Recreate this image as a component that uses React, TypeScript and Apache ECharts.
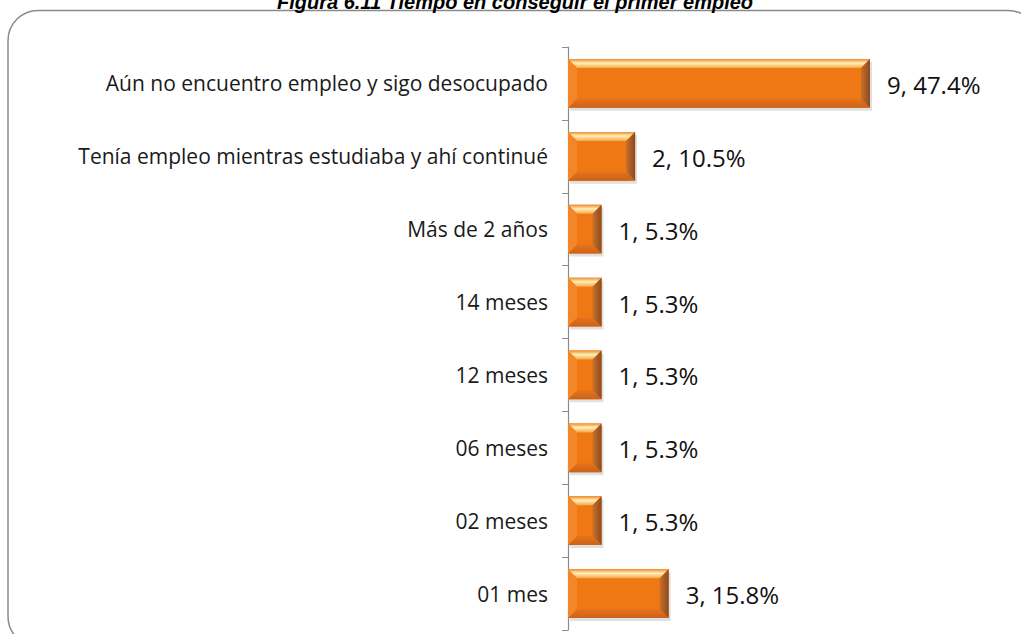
import React, { useEffect, useRef } from "react";
import * as echarts from "echarts";

const categories = [
  "Aún no encuentro empleo y sigo desocupado",
  "Tenía empleo mientras estudiaba y ahí continué",
  "Más de 2 años",
  "14 meses",
  "12 meses",
  "06 meses",
  "02 meses",
  "01 mes",
];
const counts = [9, 2, 1, 1, 1, 1, 1, 3];
const percents = ["47.4", "10.5", "5.3", "5.3", "5.3", "5.3", "5.3", "15.8"];
const titleText = "Figura 6.11 Tiempo en conseguir el primer empleo";

const LABEL_FONT = "Open Sans, Liberation Sans, sans-serif";

export default function App() {
  const ref = useRef<HTMLDivElement>(null);
  useEffect(() => {
    if (!ref.current) return;
    const chart = echarts.init(ref.current, null, { renderer: "svg" });
    const option: any = {
      animation: false,
      backgroundColor: "#ffffff",
      grid: { left: 568, top: 47, width: 302, height: 583 },
      xAxis: { type: "value", min: 0, max: 9, show: false },
      yAxis: {
        type: "category",
        inverse: true,
        data: categories,
        axisLine: { show: true, lineStyle: { color: "#8c8c8c", width: 1.2 } },
        axisTick: { show: true, length: 6, lineStyle: { color: "#8c8c8c" } },
        axisLabel: { margin: 20, fontSize: 21, color: "#1a1a1a", fontFamily: LABEL_FONT },
      },
      graphic: [
        {
          type: "rect",
          z: -10,
          shape: { x: 8, y: 10.5, width: 1030, height: 636, r: 30 },
          style: { fill: "none", stroke: "#8a8a8a", lineWidth: 1.5 },
        },
        {
          type: "text",
          x: 515,
          y: 12,
          style: {
            text: titleText,
            font: "italic bold 20px Liberation Sans, Arial, sans-serif",
            fill: "#000",
            align: "center",
            verticalAlign: "bottom",
          },
        },
      ],
      series: [
        {
          type: "custom",
          encode: { x: 0, y: 1 },
          data: counts.map((v, i) => [v, i]),
          renderItem: (params: any, api: any) => {
            const v = api.value(0);
            const idx = api.value(1);
            const s = api.coord([0, idx]);
            const e = api.coord([v, idx]);
            const band = api.size([0, 1])[1];
            const h = band * 0.67;
            const x0 = s[0];
            const x1 = e[0];
            const y0 = s[1] - h / 2;
            const y1 = y0 + h;
            const b = Math.min(9, (x1 - x0) / 3, h / 4);
            const label = counts[idx] + ", " + percents[idx] + "%";
            return {
              type: "group",
              children: [
                {
                  type: "rect",
                  shape: { x: x0 + 2, y: y0 + 3, width: x1 - x0, height: h },
                  style: { fill: "rgba(0,0,0,0.12)" },
                },
                {
                  type: "rect",
                  shape: { x: x0, y: y0, width: x1 - x0, height: h },
                  style: { fill: "#F07814" },
                },
                {
                  type: "polygon",
                  shape: { points: [[x0, y0], [x1, y0], [x1 - b, y0 + b], [x0 + b, y0 + b]] },
                  style: {
                    fill: new echarts.graphic.LinearGradient(0, 0, 0, 1, [
                      { offset: 0, color: "#F08A2A" },
                      { offset: 0.45, color: "#FFF0B8" },
                      { offset: 1, color: "#F6A848" },
                    ]),
                  },
                },
                {
                  type: "polygon",
                  shape: { points: [[x0, y1], [x1, y1], [x1 - b, y1 - b], [x0 + b, y1 - b]] },
                  style: {
                    fill: new echarts.graphic.LinearGradient(0, 0, 0, 1, [
                      { offset: 0, color: "#E8721A" },
                      { offset: 1, color: "#C8621A" },
                    ]),
                  },
                },
                {
                  type: "polygon",
                  shape: { points: [[x0, y0], [x0 + b, y0 + b], [x0 + b, y1 - b], [x0, y1]] },
                  style: { fill: "#F4862A" },
                },
                {
                  type: "polygon",
                  shape: { points: [[x1, y0], [x1 - b, y0 + b], [x1 - b, y1 - b], [x1, y1]] },
                  style: {
                    fill: new echarts.graphic.LinearGradient(0, 0, 1, 0, [
                      { offset: 0, color: "#C8702A" },
                      { offset: 1, color: "#8C4A1E" },
                    ]),
                  },
                },
                {
                  type: "text",
                  x: x1 + 17,
                  y: (y0 + y1) / 2 + 1,
                  style: {
                    text: label,
                    fill: "#111111",
                    font: "24px " + LABEL_FONT,
                    align: "left",
                    verticalAlign: "middle",
                  },
                },
              ],
            };
          },
        },
      ],
    };
    chart.setOption(option);
    return () => chart.dispose();
  }, []);
  return (
    <div
      ref={ref}
      style={{ position: "fixed", left: 0, top: 0, width: 1021, height: 634 }}
    />
  );
}
